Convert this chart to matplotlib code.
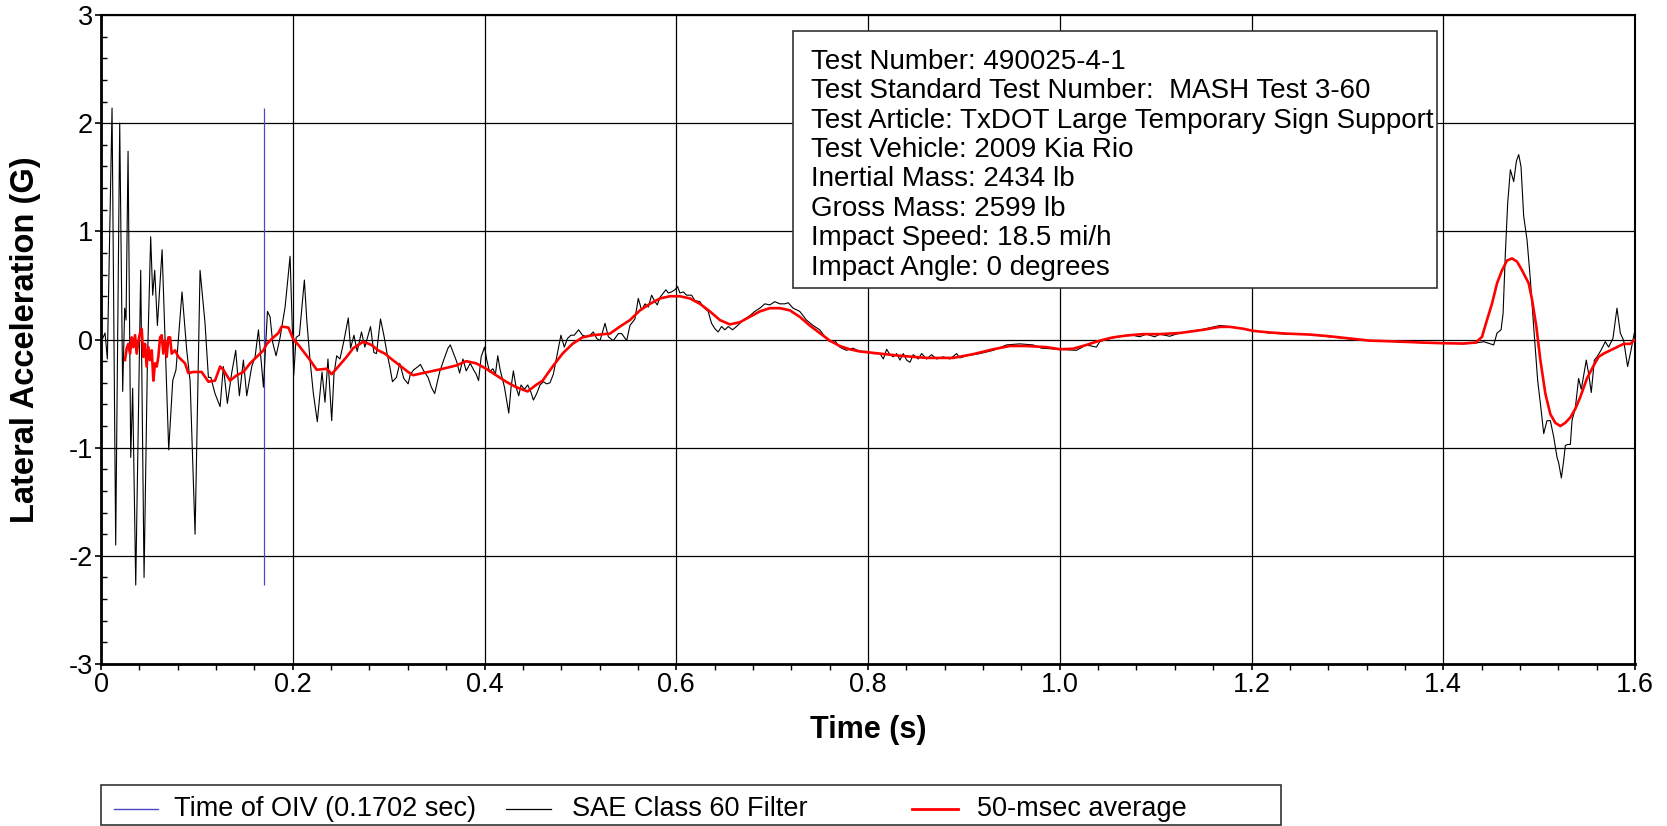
import matplotlib
matplotlib.use("Agg")
import matplotlib.pyplot as plt
from matplotlib.lines import Line2D
from matplotlib.patches import Rectangle
from matplotlib.ticker import MultipleLocator

plt.rcParams["font.family"] = ["Liberation Sans", "DejaVu Sans"]
plt.rcParams["axes.unicode_minus"] = False

# SAE Class 60 filtered lateral acceleration
sae_time = [
    0.0000, 0.0017, 0.0042, 0.0066, 0.0115, 0.0153, 0.0195, 0.0226, 0.0247, 0.0261,
    0.0282, 0.0310, 0.0330, 0.0362, 0.0414, 0.0449, 0.0483, 0.0518, 0.0539, 0.0560,
    0.0588, 0.0637, 0.0706, 0.0748, 0.0782, 0.0845, 0.0894, 0.0929, 0.0981, 0.1033,
    0.1085, 0.1120, 0.1145, 0.1189, 0.1242, 0.1276, 0.1318, 0.1363, 0.1405, 0.1443,
    0.1485, 0.1520, 0.1572, 0.1607, 0.1642, 0.1694, 0.1736, 0.1763, 0.1791, 0.1826,
    0.1868, 0.1920, 0.1972, 0.2010, 0.2035, 0.2069, 0.2121, 0.2146, 0.2180, 0.2215,
    0.2256, 0.2284, 0.2305, 0.2336, 0.2367, 0.2406, 0.2430, 0.2458, 0.2492, 0.2534,
    0.2579, 0.2603, 0.2638, 0.2672, 0.2717, 0.2752, 0.2811, 0.2846, 0.2873, 0.2915,
    0.2950, 0.2984, 0.3012, 0.3040, 0.3081, 0.3116, 0.3158, 0.3203, 0.3227, 0.3262,
    0.3307, 0.3331, 0.3366, 0.3411, 0.3445, 0.3480, 0.3532, 0.3574, 0.3619, 0.3643,
    0.3678, 0.3712, 0.3740, 0.3775, 0.3809, 0.3851, 0.3886, 0.3913, 0.3938, 0.3965,
    0.4000, 0.4024, 0.4052, 0.4087, 0.4114, 0.4138, 0.4163, 0.4208, 0.4253, 0.4277,
    0.4301, 0.4329, 0.4357, 0.4381, 0.4416, 0.4451, 0.4485, 0.4510, 0.4544, 0.4579,
    0.4614, 0.4648, 0.4683, 0.4718, 0.4753, 0.4797, 0.4832, 0.4866, 0.4901, 0.4936,
    0.4981, 0.5022, 0.5066, 0.5101, 0.5135, 0.5170, 0.5205, 0.5257, 0.5292, 0.5344,
    0.5396, 0.5431, 0.5483, 0.5517, 0.5569, 0.5604, 0.5639, 0.5674, 0.5708, 0.5743,
    0.5778, 0.5802, 0.5830, 0.5865, 0.5892, 0.5917, 0.5951, 0.5986, 0.6014, 0.6038,
    0.6073, 0.6108, 0.6160, 0.6194, 0.6247, 0.6281, 0.6333, 0.6368, 0.6403, 0.6437,
    0.6472, 0.6507, 0.6542, 0.6587, 0.6628, 0.6663, 0.6715, 0.6767, 0.6819, 0.6872,
    0.6924, 0.6976, 0.7028, 0.7080, 0.7132, 0.7167, 0.7219, 0.7288, 0.7358, 0.7427,
    0.7496, 0.7566, 0.7601, 0.7653, 0.7705, 0.7774, 0.7844, 0.7913, 0.7983, 0.8052,
    0.8125, 0.8160, 0.8194, 0.8229, 0.8264, 0.8299, 0.8333, 0.8368, 0.8403, 0.8438,
    0.8472, 0.8524, 0.8559, 0.8611, 0.8663, 0.8715, 0.8785, 0.8854, 0.8924, 0.8958,
    0.9028, 0.9167, 0.9306, 0.9444, 0.9583, 0.9722, 0.9809, 1.0000, 1.0174, 1.0278,
    1.0382, 1.0417, 1.0486, 1.0625, 1.0764, 1.0833, 1.0903, 1.0990, 1.1042, 1.1146,
    1.1250, 1.1497, 1.1671, 1.1775, 1.1913, 1.2017, 1.2191, 1.2364, 1.2607, 1.2815,
    1.3022, 1.3230, 1.3508, 1.3785, 1.3993, 1.4213, 1.4352, 1.4422, 1.4491, 1.4526,
    1.4561, 1.4603, 1.4624, 1.4648, 1.4672, 1.4700, 1.4735, 1.4763, 1.4787, 1.4811,
    1.4839, 1.4874, 1.4909, 1.4943, 1.4985, 1.5013, 1.5048, 1.5082, 1.5117, 1.5152,
    1.5187, 1.5204, 1.5232, 1.5256, 1.5273, 1.5298, 1.5326, 1.5343, 1.5378, 1.5412,
    1.5440, 1.5492, 1.5517, 1.5544, 1.5576, 1.5604, 1.5645, 1.5690, 1.5725, 1.5770,
    1.5812, 1.5847, 1.5882, 1.5923, 1.5958, 1.5993,
]
sae_accel = [
    0.00, 0.01, 0.06, -0.18, 2.14, -1.90, 2.00, -0.48, 0.29, 0.18,
    1.74, -1.09, -0.45, -2.27, 0.64, -2.20, -0.25, 0.95, 0.41, 0.64,
    0.13, 0.83, -1.02, -0.38, -0.28, 0.44, -0.10, -0.38, -1.80, 0.64,
    0.15, -0.35, -0.35, -0.50, -0.62, -0.25, -0.59, -0.31, -0.10, -0.52,
    -0.19, -0.52, -0.25, -0.16, 0.09, -0.44, 0.26, 0.21, -0.03, -0.15,
    0.02, 0.30, 0.77, -0.33, 0.02, 0.04, 0.55, 0.18, -0.19, -0.50,
    -0.76, -0.50, -0.30, -0.58, -0.18, -0.75, -0.32, -0.15, -0.18, -0.01,
    0.20, -0.08, 0.04, -0.11, 0.07, -0.07, 0.12, -0.12, -0.13, 0.19,
    0.04, -0.13, -0.25, -0.39, -0.35, -0.22, -0.36, -0.41, -0.32, -0.28,
    -0.25, -0.23, -0.29, -0.35, -0.44, -0.50, -0.30, -0.19, -0.08, -0.05,
    -0.13, -0.21, -0.31, -0.18, -0.29, -0.22, -0.28, -0.32, -0.38, -0.16,
    -0.07, -0.19, -0.30, -0.27, -0.32, -0.15, -0.28, -0.44, -0.68, -0.44,
    -0.29, -0.44, -0.52, -0.42, -0.46, -0.42, -0.49, -0.56, -0.50, -0.42,
    -0.39, -0.41, -0.40, -0.32, -0.16, 0.04, -0.07, 0.01, 0.04, 0.04,
    0.09, 0.04, 0.025, 0.04, 0.07, 0.01, -0.01, 0.15, 0.025, -0.01,
    0.055, 0.055, -0.01, 0.13, 0.19, 0.38, 0.27, 0.33, 0.30, 0.41,
    0.35, 0.32, 0.39, 0.43, 0.46, 0.43, 0.44, 0.46, 0.49, 0.43,
    0.44, 0.41, 0.41, 0.36, 0.35, 0.30, 0.26, 0.15, 0.10, 0.07,
    0.12, 0.09, 0.12, 0.09, 0.12, 0.15, 0.19, 0.22, 0.26, 0.29,
    0.33, 0.32, 0.35, 0.33, 0.33, 0.34, 0.29, 0.26, 0.18, 0.13,
    0.09, 0.01, -0.02, -0.01, -0.07, -0.10, -0.08, -0.11, -0.11, -0.13,
    -0.13, -0.18, -0.09, -0.14, -0.16, -0.13, -0.19, -0.13, -0.19, -0.21,
    -0.14, -0.18, -0.13, -0.18, -0.14, -0.18, -0.16, -0.18, -0.13, -0.17,
    -0.15, -0.13, -0.10, -0.05, -0.04, -0.05, -0.08, -0.09, -0.10, -0.05,
    -0.07, -0.02, 0.00, 0.03, 0.04, 0.025, 0.05, 0.025, 0.05, 0.03,
    0.06, 0.095, 0.13, 0.12, 0.10, 0.08, 0.06, 0.05, 0.046, 0.025,
    0.006, -0.01, -0.02, -0.03, -0.03, -0.04, -0.03, -0.02, -0.04, -0.05,
    0.06, 0.09, 0.24, 0.80, 1.26, 1.57, 1.46, 1.65, 1.71, 1.60,
    1.14, 0.92, 0.55, 0.12, -0.38, -0.59, -0.87, -0.75, -0.75, -0.90,
    -1.09, -1.14, -1.28, -1.12, -0.98, -0.97, -0.97, -0.75, -0.63, -0.36,
    -0.46, -0.19, -0.32, -0.49, -0.19, -0.16, -0.10, -0.02, -0.07, 0.01,
    0.29, 0.06, -0.01, -0.25, -0.10, 0.06,
]

# 50-msec moving average
avg_time = [
    0.0250, 0.0268, 0.0285, 0.0303, 0.0320, 0.0337, 0.0355, 0.0372, 0.0390, 0.0407,
    0.0424, 0.0442, 0.0459, 0.0476, 0.0494, 0.0511, 0.0529, 0.0546, 0.0563, 0.0581,
    0.0598, 0.0616, 0.0633, 0.0650, 0.0668, 0.0685, 0.0703, 0.0720, 0.0737, 0.0772,
    0.0807, 0.0842, 0.0876, 0.0911, 0.0963, 0.1050, 0.1120, 0.1189, 0.1242, 0.1276,
    0.1346, 0.1416, 0.1485, 0.1555, 0.1624, 0.1694, 0.1729, 0.1798, 0.1850, 0.1885,
    0.1955, 0.2007, 0.2059, 0.2111, 0.2180, 0.2250, 0.2354, 0.2406, 0.2475, 0.2562,
    0.2631, 0.2735, 0.2821, 0.2891, 0.2960, 0.3029, 0.3116, 0.3203, 0.3255, 0.3359,
    0.3463, 0.3567, 0.3705, 0.3809, 0.3913, 0.4017, 0.4121, 0.4225, 0.4329, 0.4450,
    0.4537, 0.4606, 0.4710, 0.4814, 0.4918, 0.5022, 0.5126, 0.5309, 0.5413, 0.5517,
    0.5622, 0.5726, 0.5830, 0.5934, 0.6038, 0.6142, 0.6247, 0.6351, 0.6455, 0.6559,
    0.6663, 0.6767, 0.6872, 0.6976, 0.7080, 0.7184, 0.7288, 0.7392, 0.7496, 0.7601,
    0.7705, 0.7809, 0.7913, 0.8017, 0.8333, 0.8611, 0.8889, 0.9097, 0.9306, 0.9479,
    0.9653, 0.9861, 1.0000, 1.0139, 1.0278, 1.0417, 1.0556, 1.0694, 1.0868, 1.1042,
    1.1250, 1.1497, 1.1671, 1.1775, 1.1913, 1.2017, 1.2191, 1.2364, 1.2607, 1.2815,
    1.3022, 1.3230, 1.3508, 1.3785, 1.3993, 1.4201, 1.4340, 1.4404, 1.4456, 1.4508,
    1.4561, 1.4613, 1.4665, 1.4717, 1.4770, 1.4822, 1.4891, 1.4926, 1.4971, 1.5013,
    1.5065, 1.5117, 1.5169, 1.5221, 1.5273, 1.5326, 1.5378, 1.5430, 1.5499, 1.5569,
    1.5621, 1.5673, 1.5743, 1.5812, 1.5882, 1.5951, 1.6000,
]
avg_accel = [
    -0.19, -0.08, -0.04, -0.13, 0.02, -0.07, 0.04, -0.13, -0.01, 0.06,
    0.10, -0.16, -0.04, -0.25, -0.07, -0.19, -0.10, -0.38, -0.22, -0.25,
    -0.16, 0.02, 0.04, -0.13, -0.01, -0.16, 0.02, 0.02, -0.13, -0.10,
    -0.16, -0.19, -0.22, -0.31, -0.30, -0.30, -0.39, -0.38, -0.25, -0.28,
    -0.38, -0.33, -0.30, -0.22, -0.16, -0.10, -0.04, 0.02, 0.06, 0.12,
    0.11, 0.00, -0.05, -0.11, -0.19, -0.28, -0.27, -0.32, -0.25, -0.16,
    -0.08, -0.02, -0.05, -0.10, -0.13, -0.18, -0.24, -0.30, -0.33, -0.31,
    -0.29, -0.27, -0.24, -0.20, -0.22, -0.27, -0.33, -0.39, -0.44, -0.48,
    -0.42, -0.38, -0.25, -0.13, -0.04, 0.02, 0.04, 0.055, 0.12, 0.18,
    0.27, 0.33, 0.38, 0.40, 0.40, 0.38, 0.33, 0.26, 0.18, 0.14,
    0.16, 0.21, 0.26, 0.29, 0.29, 0.27, 0.21, 0.13, 0.06, -0.01,
    -0.06, -0.09, -0.11, -0.12, -0.15, -0.17, -0.17, -0.135, -0.09, -0.06,
    -0.06, -0.07, -0.09, -0.085, -0.05, -0.01, 0.02, 0.037, 0.05, 0.05,
    0.06, 0.09, 0.117, 0.117, 0.10, 0.08, 0.065, 0.055, 0.046, 0.03,
    0.01, -0.01, -0.018, -0.028, -0.034, -0.037, -0.028, 0.025, 0.18, 0.33,
    0.52, 0.64, 0.73, 0.75, 0.72, 0.64, 0.52, 0.37, 0.12, -0.19,
    -0.50, -0.69, -0.77, -0.80, -0.77, -0.72, -0.64, -0.53, -0.36, -0.24,
    -0.16, -0.13, -0.10, -0.07, -0.04, -0.04, 0.00,
]

oiv_time = 0.1702

x_ticks = [0, 0.2, 0.4, 0.6, 0.8, 1.0, 1.2, 1.4, 1.6]
x_tick_labels = ["0", "0.2", "0.4", "0.6", "0.8", "1.0", "1.2", "1.4", "1.6"]
y_ticks = [-3, -2, -1, 0, 1, 2, 3]
y_tick_labels = ["-3", "-2", "-1", "0", "1", "2", "3"]

info_lines = [
    "Test Number: 490025-4-1",
    "Test Standard Test Number:  MASH Test 3-60",
    "Test Article: TxDOT Large Temporary Sign Support",
    "Test Vehicle: 2009 Kia Rio",
    "Inertial Mass: 2434 lb",
    "Gross Mass: 2599 lb",
    "Impact Speed: 18.5 mi/h",
    "Impact Angle: 0 degrees",
]

legend_labels = ["Time of OIV (0.1702 sec)", "SAE Class 60 Filter", "50-msec average"]
oiv_color = "#4a4ac8"

fig = plt.figure(figsize=(16.67, 8.26), dpi=100)
# axes spans pixels x 101..1635, y 15..664
ax = fig.add_axes([0.0606, 0.1961, 0.9202, 0.7857])

ax.vlines(oiv_time, min(sae_accel), max(sae_accel), color=oiv_color, lw=0.9, zorder=3)
ax.plot(sae_time, sae_accel, color="black", lw=0.8, zorder=4)
ax.plot(avg_time, avg_accel, color="red", lw=1.9, zorder=5)

ax.set_xlim(0, 1.6)
ax.set_ylim(-3, 3)
ax.set_xticks(x_ticks, labels=x_tick_labels)
ax.set_yticks(y_ticks, labels=y_tick_labels)
ax.xaxis.set_minor_locator(MultipleLocator(0.04))
ax.yaxis.set_minor_locator(MultipleLocator(0.2))
ax.grid(True, which="major", color="black", lw=0.9)
ax.set_axisbelow(True)
ax.tick_params(axis="both", which="major", length=4, width=1.2, labelsize=19.5, pad=2)
ax.tick_params(axis="x", which="minor", length=4, width=1, direction="out")
ax.tick_params(axis="y", which="minor", length=4, width=1, direction="in")
for side in ["left", "bottom"]:
    ax.spines[side].set_linewidth(2)
for side in ["top", "right"]:
    ax.spines[side].set_linewidth(1.5)

ax.set_xlabel("Time (s)", fontsize=22, fontweight="bold", labelpad=12)
ax.set_ylabel("Lateral Acceleration (G)", fontsize=23.5, fontweight="bold", labelpad=20)

# info box, pixels x 793..1437, y 31..288
box_left = (793 - 101) / 1534
box_right = (1437 - 101) / 1534
box_top = (664 - 31) / 649
box_bottom = (664 - 288) / 649
ax.add_patch(Rectangle((box_left, box_bottom), box_right - box_left, box_top - box_bottom,
                       transform=ax.transAxes, facecolor="white", edgecolor="#333333",
                       lw=1.2, zorder=6))
for i, line in enumerate(info_lines):
    y_pix = 61.7 + 29.4 * i
    ax.text((811 - 101) / 1534, (664 - y_pix) / 649, line, transform=ax.transAxes,
            fontsize=20, va="center", ha="left", zorder=7)

# legend along the bottom
fig.add_artist(Rectangle((0.0606, 0.0012), 0.7078, 0.0484, transform=fig.transFigure,
                         facecolor="white", edgecolor="#333333", lw=1.2))
legend_y = 0.0206
handle_x = [(0.0684, 0.0948), (0.3035, 0.3305), (0.5471, 0.5747)]
text_x = [0.1044, 0.3431, 0.5861]
colors = [oiv_color, "black", "red"]
widths = [1.0, 0.9, 2.0]
for (x0, x1), tx, col, lw, lab in zip(handle_x, text_x, colors, widths, legend_labels):
    fig.add_artist(Line2D([x0, x1], [legend_y, legend_y], transform=fig.transFigure,
                          color=col, lw=lw))
    fig.text(tx, legend_y, lab, fontsize=19.5, va="center", ha="left")

fig.savefig("out.png", dpi=100)
